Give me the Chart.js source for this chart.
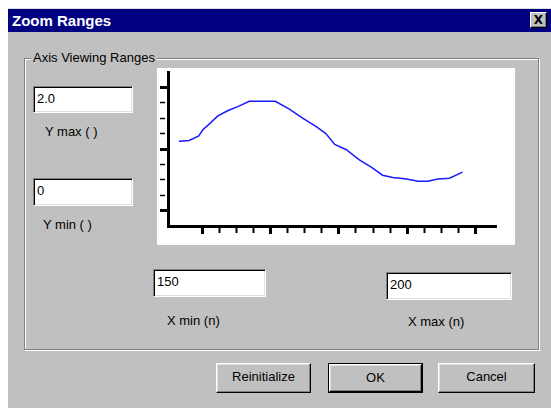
<!DOCTYPE html>
<html>
<head>
<meta charset="utf-8">
<title>Zoom Ranges</title>
<script src="https://cdn.jsdelivr.net/npm/chart.js@4.4.1/dist/chart.umd.min.js"></script>
<style>
  body { margin: 0; width: 551px; height: 408px; background: #fff; overflow: hidden; position: relative;
         font-family: "Liberation Sans", Arial, sans-serif; font-size: 13px; color: #000; }
  .abs { position: absolute; }
  .dialog { left: 7px; top: 8px; width: 544px; height: 400px; background: #c0c0c0; border-left: 1px solid #fff; border-top: 1px solid #dfdfdf; box-sizing: border-box; }
  .titlebar { left: 8px; top: 9px; width: 543px; height: 23px; background: #000080; color: #fff; font-weight: bold; font-size: 15px; line-height: 23px; padding-left: 4px; box-sizing: border-box; }
  .closebtn { left: 530px; top: 12px; width: 17px; height: 16px; background: #c0c0c0; box-sizing: border-box;
              border-top: 1px solid #fff; border-left: 1px solid #fff; border-right: 1px solid #000; border-bottom: 1px solid #000;
              box-shadow: inset -1px -1px 0 #808080;
              font-family: "DejaVu Sans", sans-serif; font-size: 12px; font-weight: bold; line-height: 14px; text-align: center; color: #000; }
  .group { left: 24px; top: 58px; width: 515px; height: 292px; border: 1px solid #808080; box-sizing: border-box;
           box-shadow: 1px 1px 0 #fff, inset 1px 1px 0 #fff; }
  .grouplabel { left: 31px; top: 50px; background: #c0c0c0; padding: 0 2px; line-height: 16px; }
  .chartbox { left: 157px; top: 68px; width: 358px; height: 177px; background: #fff; }
  .field { background: #fff; box-sizing: border-box; padding-left: 3px; line-height: 24px;
           border-top: 1px solid #808080; border-left: 1px solid #808080; border-right: 1px solid #fff; border-bottom: 1px solid #fff;
           box-shadow: inset 1px 1px 0 #000, inset -1px -1px 0 #dfdfdf; }
  .lbl { line-height: 16px; white-space: nowrap; }
  .btn { box-sizing: border-box; text-align: center; line-height: 26px; background: #c0c0c0;
         border-top: 1px solid #fff; border-left: 1px solid #fff; border-right: 1px solid #000; border-bottom: 1px solid #000;
         box-shadow: inset -1px -1px 0 #808080, inset 1px 1px 0 #dfdfdf; }
  .btn.def { outline: 1px solid #000; }
</style>
</head>
<body>
<div class="abs dialog"></div>
<div class="abs titlebar">Zoom Ranges</div>
<div class="abs closebtn">X</div>

<div class="abs group"></div>
<div class="abs grouplabel">Axis Viewing Ranges</div>

<div class="abs field" style="left:33px; top:86px; width:100px; height:27px;">2.0</div>
<div class="abs lbl" style="left:45px; top:124px;">Y max ( )</div>
<div class="abs field" style="left:33px; top:178px; width:100px; height:28px;">0</div>
<div class="abs lbl" style="left:43px; top:217px;">Y min ( )</div>

<div class="abs chartbox"><canvas id="zoomChart" width="358" height="177"></canvas></div>

<div class="abs field" style="left:153px; top:269px; width:113px; height:28px;">150</div>
<div class="abs lbl" style="left:167px; top:313px;">X min (n)</div>
<div class="abs field" style="left:386px; top:272px; width:126px; height:28px;">200</div>
<div class="abs lbl" style="left:408px; top:314px;">X max (n)</div>

<div class="abs btn" style="left:216px; top:363px; width:95px; height:30px;">Reinitialize</div>
<div class="abs btn def" style="left:329px; top:364px; width:93px; height:28px;">OK</div>
<div class="abs btn" style="left:438px; top:363px; width:97px; height:30px;">Cancel</div>

<script>
// sample index n and value
const xValues = [151.6, 153.1, 154.5, 155.1, 156.1, 157.3, 158.8, 160.2, 161.9, 165.7, 167.7, 169.7, 171.7,
                 173.1, 174.4, 176.1, 178.0, 179.8, 181.4, 182.9, 184.9, 186.6, 188.0, 189.5, 191.2, 193.1];
const yValues = [1.10, 1.11, 1.17, 1.25, 1.33, 1.43, 1.50, 1.55, 1.62, 1.62, 1.52, 1.40, 1.29,
                 1.20, 1.06, 0.99, 0.86, 0.76, 0.66, 0.63, 0.61, 0.58, 0.58, 0.61, 0.62, 0.70];

const xTicks = [155, 157.5, 160, 162.5, 165, 167.5, 170, 172.5, 175, 177.5, 180, 182.5, 185, 187.5, 190, 192.5, 195];
const xMajor = [155, 165, 175, 185, 195];
const yTicks = [0.2, 0.4, 0.6, 0.8, 1.0, 1.2, 1.4, 1.6, 1.8];
const yMajor = [0.2, 1.0, 1.8];

const xMin = 150, xMax = 198;
const yMin = 0, yMax = 2.0;

function isMajor(list, v) {
    return list.some(m => Math.abs(m - v) < 1e-6);
}

function tickStyle(majors, minorWidth) {
    return {
        display: true,
        drawOnChartArea: false,
        drawTicks: true,
        tickLength: 8,
        tickColor: '#000',
        tickWidth: ctx => ctx.tick && isMajor(majors, ctx.tick.value) ? 3 : minorWidth,
        tickBorderDash: ctx => ctx.tick && isMajor(majors, ctx.tick.value) ? [] : [5, 20]
    };
}

new Chart(document.getElementById('zoomChart'), {
    type: 'line',
    data: {
        datasets: [{
            data: xValues.map((x, i) => ({ x: x, y: yValues[i] })),
            borderColor: '#1a1aff',
            borderWidth: 1.5,
            pointRadius: 0,
            tension: 0,
            fill: false
        }]
    },
    options: {
        responsive: false,
        animation: false,
        layout: { padding: { left: 3, top: 4, right: 19, bottom: 11 } },
        plugins: { legend: { display: false }, tooltip: { enabled: false } },
        scales: {
            x: {
                type: 'linear',
                min: xMin,
                max: xMax,
                afterBuildTicks: scale => { scale.ticks = xTicks.map(v => ({ value: v })); },
                ticks: { display: false },
                grid: tickStyle(xMajor, 2),
                border: { display: true, color: '#000', width: 3 }
            },
            y: {
                min: yMin,
                max: yMax,
                afterBuildTicks: scale => { scale.ticks = yTicks.map(v => ({ value: v })); },
                ticks: { display: false },
                grid: tickStyle(yMajor, 1.5),
                border: { display: true, color: '#000', width: 3 }
            }
        }
    }
});
</script>
</body>
</html>
